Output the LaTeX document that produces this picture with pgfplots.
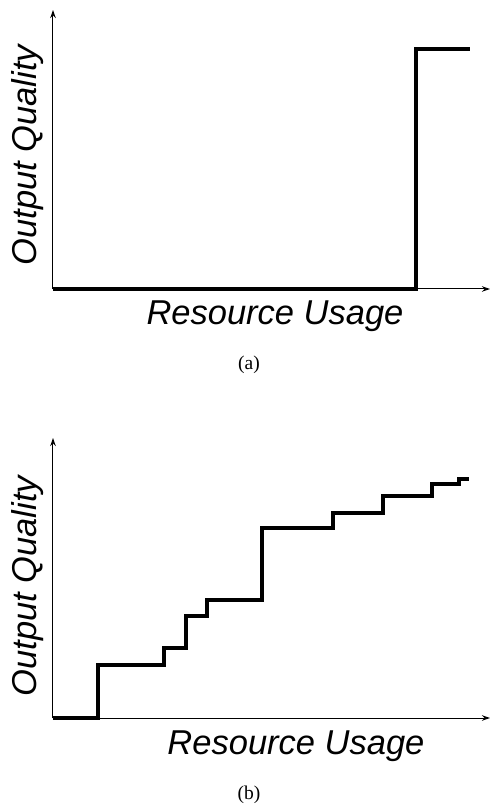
\documentclass[border=0pt]{standalone}
\usepackage{pgfplots}
\pgfplotsset{compat=1.18}
\usepackage{fontspec}
\setmainfont{Liberation Serif}
\newfontfamily\helv{Liberation Sans}
\usetikzlibrary{arrows.meta}
\begin{document}
\begin{tikzpicture}
\path[use as bounding box] (0,0) rectangle (490pt,804pt);
\pgfplotsset{
  every axis/.style={
    scale only axis,
    axis lines=left,
    xtick=\empty, ytick=\empty,
    xmin=0, ymin=0, xmax=437,
    enlargelimits=false,
    clip=false,
    axis line style={line width=1pt,-{Stealth[length=8pt,width=5.5pt]}},
    label style={font=\helv\itshape\fontsize{34.5}{40}\selectfont},
  },
}
% (a)
\begin{axis}[
  at={(53pt,515pt)}, anchor=south west,
  width=437pt, height=279pt, ymax=279,
  xlabel={Resource Usage}, ylabel={Output Quality},
  x label style={at={(axis description cs:0.508,-0.129)}, anchor=base},
  y label style={at={(axis description cs:-0.037,0.48)}, anchor=base},
]
\addplot[const plot, black, line width=4.9pt, line join=miter] coordinates {
  (0,0) (363,240) (417,240)
};
\end{axis}
\node[font=\fontsize{19.5}{22}\selectfont] at (249pt,439pt) {(a)};
% (b)
\begin{axis}[
  at={(53pt,86pt)}, anchor=south west,
  width=437pt, height=280pt, ymax=280,
  xlabel={Resource Usage}, ylabel={Output Quality},
  x label style={at={(axis description cs:0.556,-0.132)}, anchor=base},
  y label style={at={(axis description cs:-0.037,0.471)}, anchor=base},
]
\addplot[const plot, black, line width=4.9pt, line join=miter] coordinates {
  (0,0) (45,53) (111,70) (133,102) (154,118) (209,190) (280,205) (330,222) (379,234) (406,239) (416,239)
};
\end{axis}
\node[font=\fontsize{19.5}{22}\selectfont] at (249pt,9pt) {(b)};
\end{tikzpicture}
\end{document}
